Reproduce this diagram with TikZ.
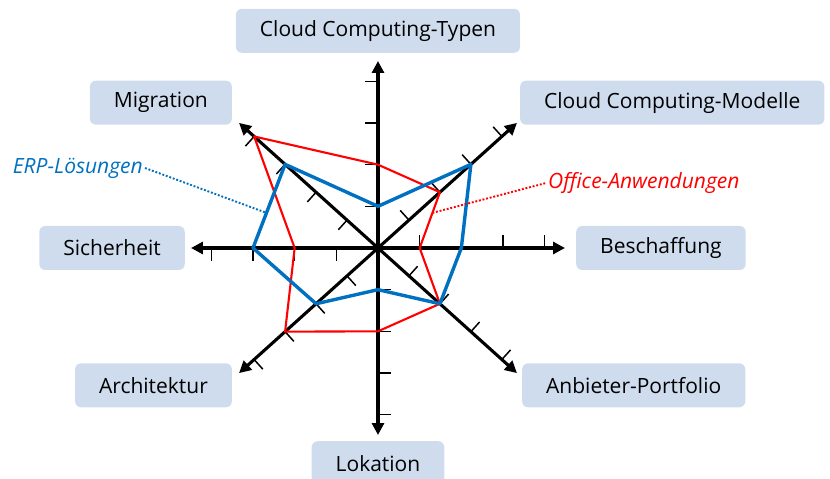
\documentclass[tikz,border=0pt]{standalone}
\usepackage{fontspec}
\setmainfont{Open Sans}
\usetikzlibrary{positioning,calc,arrows.meta}

\definecolor{kastenblau}{RGB}{207,220,238}
\definecolor{erpblau}{RGB}{0,112,192}
\definecolor{officerot}{RGB}{255,0,0}

\begin{document}
\begin{tikzpicture}[
x=1pt, y=1pt,
font=\fontsize{21}{25}\selectfont,
kategorie/.style={
    fill=kastenblau,
    rounded corners=6pt,
    minimum height=44pt,
    inner xsep=24pt,
    text=black
},
achse/.style={
    -{Triangle[length=12pt,width=12pt]},
    line width=3.1pt
},
strich/.style={
    line width=1.5pt
},
erp/.style={
    draw=erpblau,
    line width=3.4pt,
    line join=round
},
office/.style={
    draw=officerot,
    line width=2.1pt,
    line join=round
},
legende/.style={
    font=\fontsize{21}{25}\selectfont\itshape,
    inner sep=2pt
},
hinweis/.style={
    line width=1.9pt,
    dash pattern=on 1.9pt off 1.8pt
}
]

\useasboundingbox (-378,-231) rectangle (452,248);

\coordinate (mitte) at (0,0);

% Achsen mit Teilstrichen
\foreach \name/\winkel in {n/90, no/42, o/0, so/-42, s/-90, sw/222, w/180, nw/138} {
    \draw[achse] (mitte) -- ({\winkel}:187) coordinate (spitze-\name);
    \foreach \k in {1,...,4}
        \draw[strich] ({\winkel}:{\k*41.67}) -- ++({\winkel+90}:13);
}

% Werte der beiden Profile
\foreach \name/\winkel/\wert in {n/90/2, no/42/2, o/0/1, so/-42/2, s/-90/2, sw/222/3, w/180/2, nw/138/4}
    \coordinate (office-\name) at ({\winkel}:{\wert*41.67});

\foreach \name/\winkel/\wert in {n/90/1, no/42/3, o/0/2, so/-42/2, s/-90/1, sw/222/2, w/180/3, nw/138/3}
    \coordinate (erp-\name) at ({\winkel}:{\wert*41.67});

\draw[office] (office-n) -- (office-no) -- (office-o) -- (office-so)
    -- (office-s) -- (office-sw) -- (office-w) -- (office-nw) -- cycle;

\draw[erp] (erp-n) -- (erp-no) -- (erp-o) -- (erp-so)
    -- (erp-s) -- (erp-sw) -- (erp-w) -- (erp-nw) -- cycle;

% Kategorien
\node[kategorie, above=8pt of spitze-n] (typen) {Cloud Computing-Typen};
\node[kategorie, above right=-2pt and 3pt of spitze-no] (modelle) {Cloud Computing-Modelle};
\node[kategorie, right=11pt of spitze-o] (beschaffung) {Beschaffung};
\node[kategorie, below right=-10pt and 5pt of spitze-so] (anbieter) {Anbieter-Portfolio};
\node[kategorie, below=6pt of spitze-s] (lokation) {Lokation};
\node[kategorie, below left=-10pt and 7pt of spitze-sw] (architektur) {Architektur};
\node[kategorie, left=6pt of spitze-w] (sicherheit) {Sicherheit};
\node[kategorie, above left=-2pt and 7pt of spitze-nw] (migration) {Migration};

% Legende
\coordinate (erp-zeiger) at ($(erp-nw)!0.58!(erp-w)$);
\coordinate (office-zeiger) at ($(office-no)!0.37!(office-o)$);

\node[legende, text=erpblau, anchor=east] (erp-text) at (-233,80) {ERP-Lösungen};
\node[legende, text=officerot, anchor=west] (office-text) at (168,65) {Office-Anwendungen};

\draw[hinweis, erpblau] (erp-text.east) -- (erp-zeiger);
\draw[hinweis, officerot] (office-zeiger) -- (office-text.west);

\end{tikzpicture}
\end{document}
